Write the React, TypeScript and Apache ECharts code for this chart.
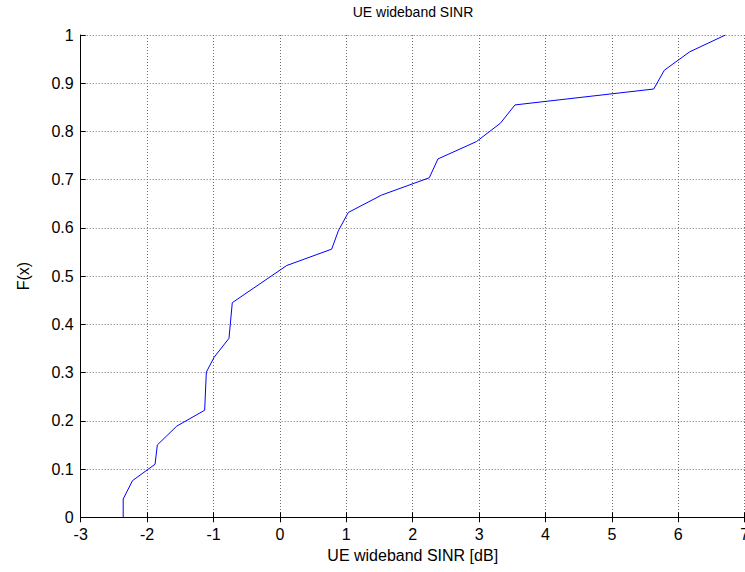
import React, { useEffect, useRef } from "react";
import * as echarts from "echarts";

// Empirical CDF of UE wideband SINR, as (SINR [dB], F(x)) breakpoints
const sinrDb = [
  -2.36, -2.36, -2.22, -1.88, -1.846, -1.554, -1.133, -1.108, -0.99, -0.767,
  -0.717, 0.102, 0.78, 0.88, 1.03, 1.53, 2.25, 2.38, 2.96, 3.32, 3.54, 5.63,
  5.79, 6.17, 6.71,
];
const cdf = [
  0, 0.038, 0.076, 0.11, 0.15, 0.189, 0.222, 0.301, 0.332, 0.371, 0.445,
  0.522, 0.556, 0.594, 0.632, 0.668, 0.704, 0.743, 0.779, 0.817, 0.855,
  0.888, 0.927, 0.965, 1.0,
];

const xTicks = { min: -3, max: 7, interval: 1 };
const yTicks = { min: 0, max: 1, interval: 0.1 };

const FONT = "Liberation Sans, Arial, sans-serif";

export default function App() {
  const ref = useRef<HTMLDivElement>(null);

  useEffect(() => {
    if (!ref.current) return;
    const chart = echarts.init(ref.current, undefined, { renderer: "svg" });
    const gridLine = { show: true, lineStyle: { color: "#6e6e6e", width: 1, type: [1, 2] as any } };
    const tick = { show: true, inside: true, length: 5, lineStyle: { color: "#000", width: 1 } };

    chart.setOption({
      animation: false,
      backgroundColor: "#fff",
      textStyle: { fontFamily: FONT },
      graphic: [
        {
          type: "text",
          x: 413,
          y: 12,
          style: {
            text: "UE wideband SINR",
            font: `14px ${FONT}`,
            fill: "#000",
            textAlign: "center",
            textVerticalAlign: "middle",
          },
        },
      ],
      grid: {
        left: 80.7,
        right: 0.3,
        top: 35,
        bottom: 54.7,
        containLabel: false,
        outerBoundsMode: "none",
      },
      xAxis: [
        {
          type: "value",
          ...xTicks,
          name: "UE wideband SINR [dB]",
          nameLocation: "middle",
          nameGap: 26,
          nameTextStyle: { fontFamily: FONT, fontSize: 16, color: "#000" },
          axisLine: { show: true, onZero: false, lineStyle: { color: "#000", width: 1 } },
          axisTick: tick,
          axisLabel: { fontFamily: FONT, fontSize: 16, color: "#000", margin: 9 },
          splitLine: gridLine,
        },
        {
          type: "value",
          position: "top",
          ...xTicks,
          axisLine: { show: false },
          axisTick: tick,
          axisLabel: { show: false },
          splitLine: { show: false },
        },
      ],
      yAxis: {
        type: "value",
        ...yTicks,
        name: "F(x)",
        nameLocation: "middle",
        nameGap: 49,
        nameRotate: 90,
        nameTextStyle: { fontFamily: FONT, fontSize: 16, color: "#000" },
        axisLine: { show: true, onZero: false, lineStyle: { color: "#000", width: 1 } },
        axisTick: tick,
        axisLabel: {
          fontFamily: FONT,
          fontSize: 16,
          color: "#000",
          margin: 7,
          formatter: (v: number) => (v === 0 ? "0" : v === 1 ? "1" : v.toFixed(1)),
        },
        splitLine: gridLine,
      },
      series: [
        {
          type: "line",
          xAxisIndex: 0,
          data: sinrDb.map((x, i) => [x, cdf[i]]),
          showSymbol: false,
          lineStyle: { color: "#0000ff", width: 1 },
          itemStyle: { color: "#0000ff" },
        },
      ],
    });
    return () => chart.dispose();
  }, []);

  return (
    <div
      ref={ref}
      style={{ position: "fixed", left: 0, top: 0, width: 745, height: 572 }}
    />
  );
}
